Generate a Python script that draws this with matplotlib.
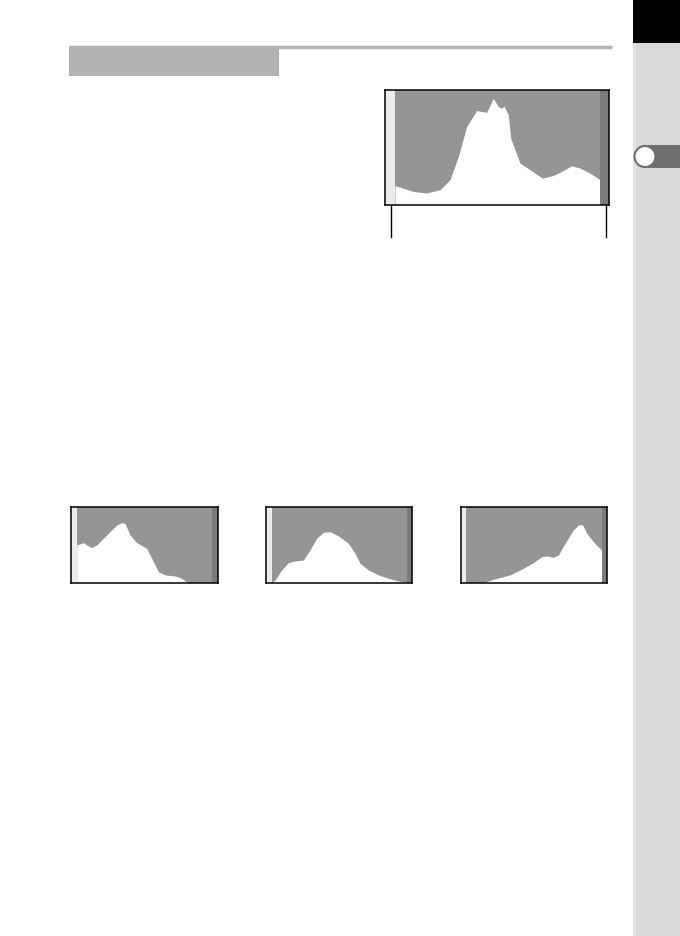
import matplotlib
matplotlib.use("Agg")
import matplotlib.pyplot as plt
from matplotlib.patches import Rectangle, FancyBboxPatch, Circle

# Brightness histograms (level 0-255, relative count 0-100)
main_levels = [0, 22.8, 39.4, 56, 68.4, 78.8, 89.1, 101.6, 114, 122.3, 128.5, 132.7,
               135.6, 141, 143.9, 155.5, 168, 183.3, 197, 207.3, 219.8, 230.1, 242.6, 255]
main_counts = [16.8, 11.8, 10.4, 13.3, 22, 42.2, 68.2, 82.1, 80.6, 92.8, 85.5, 84.1,
               86.1, 78.3, 58.1, 36.4, 30.6, 23.4, 25.7, 29.2, 34.1, 32.1, 27.7, 22]

dark_levels = [0, 12.6, 22, 28.3, 37.7, 56.5, 75.4, 84.8, 91, 100.5, 113, 132,
               141.4, 154, 166.6, 185.5, 198, 208.5, 210.4, 255]
dark_counts = [50.4, 53.5, 49.1, 46.9, 50.4, 63.6, 76.8, 79.8, 78.9, 63.6, 53.5, 46,
               32.9, 15.4, 11, 9.6, 6.6, 0.9, 0, 0]

mid_levels = [0, 6.3, 18.9, 31.5, 44, 59.8, 72.4, 85, 97.6, 110.2, 126, 144.9,
              157.4, 166.9, 182.6, 201.5, 220.4, 239.3, 255]
mid_counts = [0.9, 4.4, 17.5, 27.2, 29.4, 30.7, 43.9, 59.2, 67.1, 68, 62.3, 52.6,
              39.5, 26.3, 17.5, 11, 6.6, 3.1, 0.9]

bright_levels = [0, 32.5, 51.3, 82.5, 107.5, 126.3, 141.9, 151.3, 163.8, 173.2, 185.7,
                 201.3, 210.7, 218.8, 226.3, 238.8, 255]
bright_counts = [0, 0.9, 5.3, 11, 19.7, 27.2, 35.1, 36, 34.2, 37.3, 52.6,
                 70.2, 76.8, 76.8, 65.8, 54.8, 43]

W, H = 680, 936
BG = "#959597"
LEFT_STRIP = "#ececec"
RIGHT_STRIP = "#7b7b7d"

fig = plt.figure(figsize=(W / 100, H / 100), dpi=100)

# page decorations in pixel coordinates
page = fig.add_axes([0, 0, 1, 1])
page.set_xlim(0, W)
page.set_ylim(H, 0)
page.axis("off")

page.add_patch(Rectangle((69, 46), 210, 30, facecolor="#b3b3b3", edgecolor="none"))
page.plot([69, 612], [47, 47], color="#b3b3b3", lw=2.5, solid_capstyle="butt")

# side tab
page.add_patch(Rectangle((633, 43), 47, H - 43, facecolor="#d9d9d9", edgecolor="none"))
page.add_patch(Rectangle((633, 43), 3, H - 43, facecolor="#e2e2e2", edgecolor="none"))
page.add_patch(Rectangle((633, 0), 47, 43, facecolor="black", edgecolor="none"))
page.add_patch(FancyBboxPatch((645, 145), 40, 23, boxstyle="round,pad=0,rounding_size=11",
                              facecolor="#6d6e70", edgecolor="none"))
page.add_patch(Rectangle((648, 145), 40, 23, facecolor="#6d6e70", edgecolor="none"))
page.add_patch(Circle((645, 156.5), 10.5, facecolor="white", edgecolor="#6d6e70", lw=1.5))

# indicator lines under the main histogram
page.plot([391, 391], [205, 237], color="black", lw=1)
page.plot([606, 606], [205, 237], color="black", lw=1)


def draw_hist(box, data_x, levels, counts):
    """box = (x0, y0, x1, y1) pixel frame; data_x = (left, right) pixel range of 0-255."""
    x0, y0, x1, y1 = box
    ax = fig.add_axes([x0 / W, 1 - y1 / H, (x1 - x0) / W, (y1 - y0) / H])
    scale = 255 / (data_x[1] - data_x[0])
    lo = -(data_x[0] - x0) * scale
    hi = 255 + (x1 - data_x[1]) * scale
    ax.set_xlim(lo, hi)
    ax.set_ylim(0, 100)
    ax.set_facecolor(BG)
    ax.axvspan(lo, 0, color=LEFT_STRIP, lw=0)
    ax.fill_between(levels, counts, 0, color="white", lw=0)
    ax.axvspan(255, hi, color=RIGHT_STRIP, lw=0)
    ax.set_xticks([])
    ax.set_yticks([])
    for s in ax.spines.values():
        s.set_color("black")
        s.set_linewidth(1.1)
    return ax


draw_hist((385, 90, 609, 205), (395, 600), main_levels, main_counts)
draw_hist((70.7, 507.3, 218, 583.3), (76.7, 212), dark_levels, dark_counts)
draw_hist((265.7, 507.3, 412.3, 583.3), (271.7, 406.7), mid_levels, mid_counts)
draw_hist((460.7, 507.3, 607.3, 583.3), (466, 602), bright_levels, bright_counts)

fig.savefig("out.png", dpi=100, facecolor="white")
